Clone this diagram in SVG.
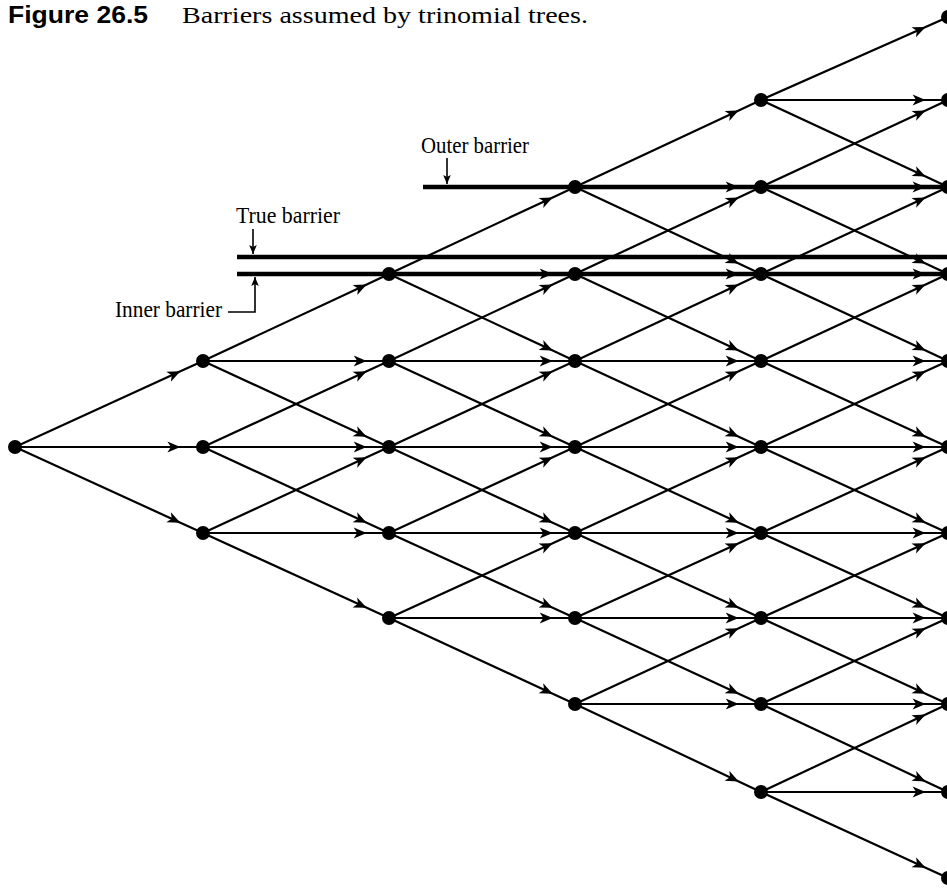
<svg xmlns="http://www.w3.org/2000/svg" width="947" height="888" viewBox="0 0 947 888">
<style>
.e{fill:none;stroke:#000;stroke-width:2.2;marker-mid:url(#ah)}
.n{fill:#000}
.bar{stroke:#000;stroke-width:4.5;fill:none}
.la{fill:none;stroke:#000;stroke-width:1.6;marker-end:url(#sah)}
.lbl{font-family:"Liberation Serif","Times New Roman",serif;font-size:24px;fill:#000}
.ttl{font-family:"Liberation Sans","Open Sans",sans-serif;font-weight:700;font-size:23px;fill:#000}
.cap{font-family:"Liberation Serif","Times New Roman",serif;font-size:24px;fill:#000}
</style>
<defs>
<marker id="ah" viewBox="-14 -7 16 14" markerWidth="16" markerHeight="14" refX="0" refY="0" orient="auto" markerUnits="userSpaceOnUse">
<path d="M0,0 L-13,-5.5 L-9.5,0 L-13,5.5 Z" fill="#000"/>
</marker>
<marker id="sah" viewBox="-10 -5 11 10" markerWidth="11" markerHeight="10" refX="0" refY="0" orient="auto" markerUnits="userSpaceOnUse">
<path d="M0,0 L-9,-3.8 L-7,0 L-9,3.8 Z" fill="#000"/>
</marker>
</defs>
<rect width="947" height="888" fill="#fff"/>
<g id="title">
<text class="ttl" x="8" y="23" textLength="140" lengthAdjust="spacingAndGlyphs">Figure 26.5</text>
<text class="cap" x="182" y="23" textLength="406" lengthAdjust="spacingAndGlyphs">Barriers assumed by trinomial trees.</text>
</g>
<g id="connectors">
<path class="e" d="M15 447 L180.4 371.3 L203 361"/>
<path class="e" d="M15 447 L180.4 447 L203 447"/>
<path class="e" d="M15 447 L180.4 522.7 L203 533"/>

<path class="e" d="M203 361 L366.7 284.4 L389 274"/>
<path class="e" d="M203 361 L366.7 361 L389 361"/>
<path class="e" d="M203 361 L366.7 436.7 L389 447"/>
<path class="e" d="M203 447 L366.7 371.3 L389 361"/>
<path class="e" d="M203 447 L366.7 447 L389 447"/>
<path class="e" d="M203 447 L366.7 522.7 L389 533"/>
<path class="e" d="M203 533 L366.7 457.3 L389 447"/>
<path class="e" d="M203 533 L366.7 533 L389 533"/>
<path class="e" d="M203 533 L366.7 607.8 L389 618"/>

<path class="e" d="M389 274 L552.7 197.4 L575 187"/>
<path class="e" d="M389 274 L552.7 274 L575 274"/>
<path class="e" d="M389 274 L552.7 350.6 L575 361"/>
<path class="e" d="M389 361 L552.7 284.4 L575 274"/>
<path class="e" d="M389 361 L552.7 361 L575 361"/>
<path class="e" d="M389 361 L552.7 436.7 L575 447"/>
<path class="e" d="M389 447 L552.7 371.3 L575 361"/>
<path class="e" d="M389 447 L552.7 447 L575 447"/>
<path class="e" d="M389 447 L552.7 522.7 L575 533"/>
<path class="e" d="M389 533 L552.7 457.3 L575 447"/>
<path class="e" d="M389 533 L552.7 533 L575 533"/>
<path class="e" d="M389 533 L552.7 607.8 L575 618"/>
<path class="e" d="M389 618 L552.7 543.2 L575 533"/>
<path class="e" d="M389 618 L552.7 618 L575 618"/>
<path class="e" d="M389 618 L552.7 693.7 L575 704"/>

<path class="e" d="M575 187 L738.7 110.4 L761 100"/>
<path class="e" d="M575 187 L738.7 187 L761 187"/>
<path class="e" d="M575 187 L738.7 263.6 L761 274"/>
<path class="e" d="M575 274 L738.7 197.4 L761 187"/>
<path class="e" d="M575 274 L738.7 274 L761 274"/>
<path class="e" d="M575 274 L738.7 350.6 L761 361"/>
<path class="e" d="M575 361 L738.7 284.4 L761 274"/>
<path class="e" d="M575 361 L738.7 361 L761 361"/>
<path class="e" d="M575 361 L738.7 436.7 L761 447"/>
<path class="e" d="M575 447 L738.7 371.3 L761 361"/>
<path class="e" d="M575 447 L738.7 447 L761 447"/>
<path class="e" d="M575 447 L738.7 522.7 L761 533"/>
<path class="e" d="M575 533 L738.7 457.3 L761 447"/>
<path class="e" d="M575 533 L738.7 533 L761 533"/>
<path class="e" d="M575 533 L738.7 607.8 L761 618"/>
<path class="e" d="M575 618 L738.7 543.2 L761 533"/>
<path class="e" d="M575 618 L738.7 618 L761 618"/>
<path class="e" d="M575 618 L738.7 693.7 L761 704"/>
<path class="e" d="M575 704 L738.7 628.3 L761 618"/>
<path class="e" d="M575 704 L738.7 704 L761 704"/>
<path class="e" d="M575 704 L738.7 781.4 L761 792"/>

<path class="e" d="M761 100 L925.6 27 L948 17"/>
<path class="e" d="M761 100 L925.6 100 L948 100"/>
<path class="e" d="M761 100 L925.6 176.6 L948 187"/>
<path class="e" d="M761 187 L925.6 110.4 L948 100"/>
<path class="e" d="M761 187 L925.6 187 L948 187"/>
<path class="e" d="M761 187 L925.6 263.6 L948 274"/>
<path class="e" d="M761 274 L925.6 197.4 L948 187"/>
<path class="e" d="M761 274 L925.6 274 L948 274"/>
<path class="e" d="M761 274 L925.6 350.6 L948 361"/>
<path class="e" d="M761 361 L925.6 284.4 L948 274"/>
<path class="e" d="M761 361 L925.6 361 L948 361"/>
<path class="e" d="M761 361 L925.6 436.7 L948 447"/>
<path class="e" d="M761 447 L925.6 371.3 L948 361"/>
<path class="e" d="M761 447 L925.6 447 L948 447"/>
<path class="e" d="M761 447 L925.6 522.7 L948 533"/>
<path class="e" d="M761 533 L925.6 457.3 L948 447"/>
<path class="e" d="M761 533 L925.6 533 L948 533"/>
<path class="e" d="M761 533 L925.6 607.8 L948 618"/>
<path class="e" d="M761 618 L925.6 543.2 L948 533"/>
<path class="e" d="M761 618 L925.6 618 L948 618"/>
<path class="e" d="M761 618 L925.6 693.7 L948 704"/>
<path class="e" d="M761 704 L925.6 628.3 L948 618"/>
<path class="e" d="M761 704 L925.6 704 L948 704"/>
<path class="e" d="M761 704 L925.6 781.4 L948 792"/>
<path class="e" d="M761 792 L925.6 714.6 L948 704"/>
<path class="e" d="M761 792 L925.6 792 L948 792"/>
<path class="e" d="M761 792 L925.6 867.7 L948 878"/>
</g>
<g id="barriers">
<g id="outer-barrier">
<line class="bar" x1="423" y1="187" x2="947" y2="187"/>
<text class="lbl" x="421" y="153" textLength="108" lengthAdjust="spacingAndGlyphs">Outer barrier</text>
<line class="la" x1="447" y1="158" x2="447" y2="184"/>
</g>
<g id="true-barrier">
<line class="bar" x1="237" y1="257" x2="947" y2="257"/>
<text class="lbl" x="236" y="223" textLength="104" lengthAdjust="spacingAndGlyphs">True barrier</text>
<line class="la" x1="253" y1="229" x2="253" y2="254"/>
</g>
<g id="inner-barrier">
<line class="bar" x1="237" y1="274" x2="947" y2="274"/>
<text class="lbl" x="115" y="317" textLength="107" lengthAdjust="spacingAndGlyphs">Inner barrier</text>
<polyline class="la" points="228,312 255,312 255,277"/>
</g>
</g>
<g id="n0_0"><circle class="n" cx="15" cy="447" r="7"/></g>
<g id="n1_m1"><circle class="n" cx="203" cy="361" r="7"/></g>
<g id="n1_0"><circle class="n" cx="203" cy="447" r="7"/></g>
<g id="n1_p1"><circle class="n" cx="203" cy="533" r="7"/></g>
<g id="n2_m2"><circle class="n" cx="389" cy="274" r="7"/></g>
<g id="n2_m1"><circle class="n" cx="389" cy="361" r="7"/></g>
<g id="n2_0"><circle class="n" cx="389" cy="447" r="7"/></g>
<g id="n2_p1"><circle class="n" cx="389" cy="533" r="7"/></g>
<g id="n2_p2"><circle class="n" cx="389" cy="618" r="7"/></g>
<g id="n3_m3"><circle class="n" cx="575" cy="187" r="7"/></g>
<g id="n3_m2"><circle class="n" cx="575" cy="274" r="7"/></g>
<g id="n3_m1"><circle class="n" cx="575" cy="361" r="7"/></g>
<g id="n3_0"><circle class="n" cx="575" cy="447" r="7"/></g>
<g id="n3_p1"><circle class="n" cx="575" cy="533" r="7"/></g>
<g id="n3_p2"><circle class="n" cx="575" cy="618" r="7"/></g>
<g id="n3_p3"><circle class="n" cx="575" cy="704" r="7"/></g>
<g id="n4_m4"><circle class="n" cx="761" cy="100" r="7"/></g>
<g id="n4_m3"><circle class="n" cx="761" cy="187" r="7"/></g>
<g id="n4_m2"><circle class="n" cx="761" cy="274" r="7"/></g>
<g id="n4_m1"><circle class="n" cx="761" cy="361" r="7"/></g>
<g id="n4_0"><circle class="n" cx="761" cy="447" r="7"/></g>
<g id="n4_p1"><circle class="n" cx="761" cy="533" r="7"/></g>
<g id="n4_p2"><circle class="n" cx="761" cy="618" r="7"/></g>
<g id="n4_p3"><circle class="n" cx="761" cy="704" r="7"/></g>
<g id="n4_p4"><circle class="n" cx="761" cy="792" r="7"/></g>
<g id="n5_m5"><circle class="n" cx="948" cy="17" r="7"/></g>
<g id="n5_m4"><circle class="n" cx="948" cy="100" r="7"/></g>
<g id="n5_m3"><circle class="n" cx="948" cy="187" r="7"/></g>
<g id="n5_m2"><circle class="n" cx="948" cy="274" r="7"/></g>
<g id="n5_m1"><circle class="n" cx="948" cy="361" r="7"/></g>
<g id="n5_0"><circle class="n" cx="948" cy="447" r="7"/></g>
<g id="n5_p1"><circle class="n" cx="948" cy="533" r="7"/></g>
<g id="n5_p2"><circle class="n" cx="948" cy="618" r="7"/></g>
<g id="n5_p3"><circle class="n" cx="948" cy="704" r="7"/></g>
<g id="n5_p4"><circle class="n" cx="948" cy="792" r="7"/></g>
<g id="n5_p5"><circle class="n" cx="948" cy="878" r="7"/></g>
</svg>
